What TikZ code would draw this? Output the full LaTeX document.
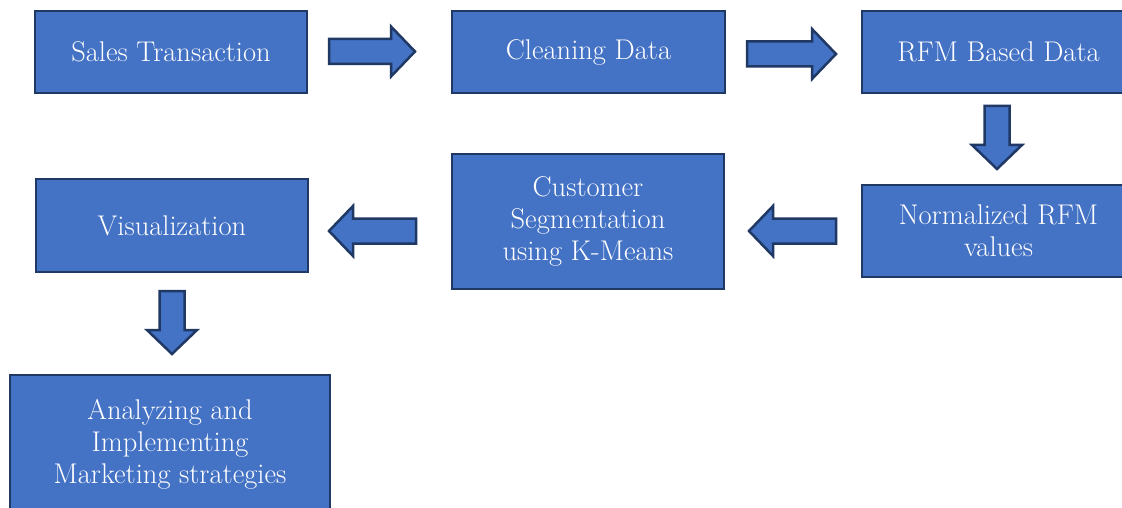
\documentclass[tikz,border=0pt]{standalone}
\usetikzlibrary{calc}
\definecolor{boxfill}{HTML}{4472C4}
\definecolor{boxline}{HTML}{1F3864}
\tikzset{
  stepbox/.style={draw=boxline, fill=boxfill, line width=2.5pt, text=white,
    align=center, inner sep=0pt, font=\fontsize{28.5}{32}\selectfont},
  arrowshape/.style={draw=boxline, fill=boxfill, line width=2.5pt, line join=miter},
}
% block arrow from coordinate #1 (tail) to coordinate #2 (tip)
\newcommand\blockarrow[2]{%
  \draw[arrowshape] let \p1=($(#2)-(#1)$), \n1={veclen(\x1,\y1)}, \n2={atan2(\y1,\x1)} in
    [shift={(#1)}, rotate=\n2]
    (0,-12.5) -- (\n1-24,-12.5) -- (\n1-24,-25) -- (\n1,0)
    -- (\n1-24,25) -- (\n1-24,12.5) -- (0,12.5) -- cycle;}
\begin{document}
\begin{tikzpicture}[x=1pt, y=-1pt]
  \useasboundingbox (0,0) rectangle (1122,508);
  \fill[white] (0,0) rectangle (1122,508);

  % process steps
  \node[stepbox, minimum width=272pt, minimum height=82pt] (sales) at (171,52) {Sales Transaction};
  \node[stepbox, minimum width=273pt, minimum height=82pt] (clean) at (588.5,52) {Cleaning Data};
  \node[stepbox, minimum width=273pt, minimum height=82pt] (rfm) at (998.5,52) {RFM Based Data};
  \node[stepbox, minimum width=273pt, minimum height=92pt] (norm) at (998.5,231) {Normalized RFM\\values};
  \node[stepbox, minimum width=272pt, minimum height=135pt] (seg) at (588,221.5) {Customer\\Segmentation\\using K-Means};
  \node[stepbox, minimum width=272pt, minimum height=93pt] (vis) at (172,225.5) {Visualization};
  \node[stepbox, minimum width=320pt, minimum height=138pt] (act) at (170,444) {Analyzing and\\Implementing\\Marketing strategies};

  % arrow ends in the gaps between the steps
  \coordinate (a1s) at (329,51.5);  \coordinate (a1t) at (415,51.5);
  \coordinate (a2s) at (747,54);    \coordinate (a2t) at (836,54);
  \coordinate (a3s) at (997,106);   \coordinate (a3t) at (997,169);
  \coordinate (a4s) at (836,231);   \coordinate (a4t) at (749,231);
  \coordinate (a5s) at (416,231);   \coordinate (a5t) at (329,231);
  \coordinate (a6s) at (172,291);   \coordinate (a6t) at (172,354);

  % block arrows
  \blockarrow{a1s}{a1t}
  \blockarrow{a2s}{a2t}
  \blockarrow{a3s}{a3t}
  \blockarrow{a4s}{a4t}
  \blockarrow{a5s}{a5t}
  \blockarrow{a6s}{a6t}
\end{tikzpicture}
\end{document}
